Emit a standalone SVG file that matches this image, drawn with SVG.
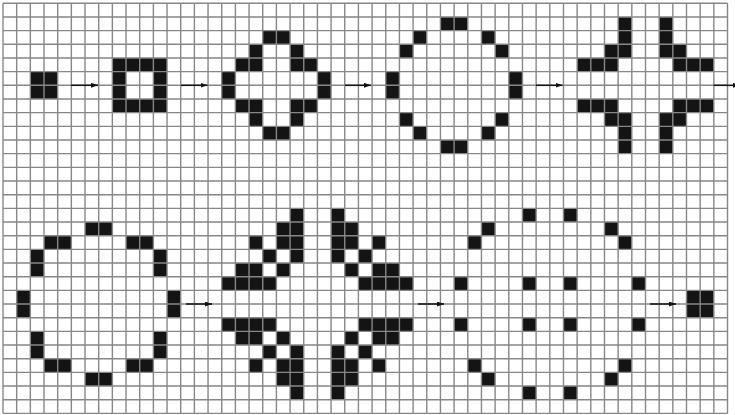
<svg xmlns="http://www.w3.org/2000/svg" width="735" height="415" viewBox="0 0 735 415">
<style>
.c{fill:#141414}
.grid{fill:none;stroke:#878787;stroke-width:1.4}
.arr{stroke:#111;stroke-width:1.5;fill:none}
</style>
<defs>
<marker id="ah" markerUnits="userSpaceOnUse" markerWidth="8" markerHeight="6" refX="7" refY="2.5" orient="auto">
<path d="M0,0 L7,2.5 L0,5 z" fill="#111"/>
</marker>
</defs>
<rect width="735" height="415" fill="#fff"/>
<g transform="translate(3 3.3) scale(13.67)">
<g id="p1">
<rect class="c" x="2" y="5" width="2" height="2"/>
</g>
<g id="p2">
<rect class="c" x="8" y="4" width="4" height="1"/>
<rect class="c" x="8" y="7" width="4" height="1"/>
<rect class="c" x="8" y="5" width="1" height="2"/>
<rect class="c" x="11" y="5" width="1" height="2"/>
</g>
<g id="p3">
<rect class="c" x="19" y="2" width="2" height="1"/>
<rect class="c" x="18" y="3" width="1" height="1"/>
<rect class="c" x="21" y="3" width="1" height="1"/>
<rect class="c" x="17" y="4" width="2" height="1"/>
<rect class="c" x="21" y="4" width="2" height="1"/>
<rect class="c" x="16" y="5" width="1" height="2"/>
<rect class="c" x="23" y="5" width="1" height="2"/>
<rect class="c" x="17" y="7" width="2" height="1"/>
<rect class="c" x="21" y="7" width="2" height="1"/>
<rect class="c" x="18" y="8" width="1" height="1"/>
<rect class="c" x="21" y="8" width="1" height="1"/>
<rect class="c" x="19" y="9" width="2" height="1"/>
</g>
<g id="p4">
<rect class="c" x="32" y="1" width="2" height="1"/>
<rect class="c" x="30" y="2" width="1" height="1"/>
<rect class="c" x="35" y="2" width="1" height="1"/>
<rect class="c" x="29" y="3" width="1" height="1"/>
<rect class="c" x="36" y="3" width="1" height="1"/>
<rect class="c" x="28" y="5" width="1" height="2"/>
<rect class="c" x="37" y="5" width="1" height="2"/>
<rect class="c" x="29" y="8" width="1" height="1"/>
<rect class="c" x="36" y="8" width="1" height="1"/>
<rect class="c" x="30" y="9" width="1" height="1"/>
<rect class="c" x="35" y="9" width="1" height="1"/>
<rect class="c" x="32" y="10" width="2" height="1"/>
</g>
<g id="p5">
<rect class="c" x="45" y="1" width="1" height="2"/>
<rect class="c" x="48" y="1" width="1" height="2"/>
<rect class="c" x="44" y="3" width="2" height="1"/>
<rect class="c" x="48" y="3" width="2" height="1"/>
<rect class="c" x="42" y="4" width="3" height="1"/>
<rect class="c" x="49" y="4" width="3" height="1"/>
<rect class="c" x="42" y="7" width="3" height="1"/>
<rect class="c" x="49" y="7" width="3" height="1"/>
<rect class="c" x="44" y="8" width="2" height="1"/>
<rect class="c" x="48" y="8" width="2" height="1"/>
<rect class="c" x="45" y="9" width="1" height="2"/>
<rect class="c" x="48" y="9" width="1" height="2"/>
</g>
<g id="p6">
<rect class="c" x="6" y="16" width="2" height="1"/>
<rect class="c" x="3" y="17" width="2" height="1"/>
<rect class="c" x="9" y="17" width="2" height="1"/>
<rect class="c" x="2" y="18" width="1" height="2"/>
<rect class="c" x="11" y="18" width="1" height="2"/>
<rect class="c" x="1" y="21" width="1" height="2"/>
<rect class="c" x="12" y="21" width="1" height="2"/>
<rect class="c" x="2" y="24" width="1" height="2"/>
<rect class="c" x="11" y="24" width="1" height="2"/>
<rect class="c" x="3" y="26" width="2" height="1"/>
<rect class="c" x="9" y="26" width="2" height="1"/>
<rect class="c" x="6" y="27" width="2" height="1"/>
</g>
<g id="p7">
<rect class="c" x="21" y="15" width="1" height="1"/>
<rect class="c" x="24" y="15" width="1" height="1"/>
<rect class="c" x="20" y="16" width="2" height="2"/>
<rect class="c" x="24" y="16" width="2" height="2"/>
<rect class="c" x="18" y="17" width="1" height="1"/>
<rect class="c" x="27" y="17" width="1" height="1"/>
<rect class="c" x="19" y="18" width="1" height="1"/>
<rect class="c" x="21" y="18" width="1" height="1"/>
<rect class="c" x="24" y="18" width="1" height="1"/>
<rect class="c" x="26" y="18" width="1" height="1"/>
<rect class="c" x="17" y="19" width="2" height="1"/>
<rect class="c" x="20" y="19" width="1" height="1"/>
<rect class="c" x="25" y="19" width="1" height="1"/>
<rect class="c" x="27" y="19" width="2" height="1"/>
<rect class="c" x="16" y="20" width="4" height="1"/>
<rect class="c" x="26" y="20" width="4" height="1"/>
<rect class="c" x="16" y="23" width="4" height="1"/>
<rect class="c" x="26" y="23" width="4" height="1"/>
<rect class="c" x="17" y="24" width="2" height="1"/>
<rect class="c" x="20" y="24" width="1" height="1"/>
<rect class="c" x="25" y="24" width="1" height="1"/>
<rect class="c" x="27" y="24" width="2" height="1"/>
<rect class="c" x="19" y="25" width="1" height="1"/>
<rect class="c" x="21" y="25" width="1" height="1"/>
<rect class="c" x="24" y="25" width="1" height="1"/>
<rect class="c" x="26" y="25" width="1" height="1"/>
<rect class="c" x="18" y="26" width="1" height="1"/>
<rect class="c" x="27" y="26" width="1" height="1"/>
<rect class="c" x="20" y="26" width="2" height="2"/>
<rect class="c" x="24" y="26" width="2" height="2"/>
<rect class="c" x="21" y="28" width="1" height="1"/>
<rect class="c" x="24" y="28" width="1" height="1"/>
</g>
<g id="p8">
<rect class="c" x="38" y="15" width="1" height="1"/>
<rect class="c" x="41" y="15" width="1" height="1"/>
<rect class="c" x="35" y="16" width="1" height="1"/>
<rect class="c" x="44" y="16" width="1" height="1"/>
<rect class="c" x="34" y="17" width="1" height="1"/>
<rect class="c" x="45" y="17" width="1" height="1"/>
<rect class="c" x="33" y="20" width="1" height="1"/>
<rect class="c" x="38" y="20" width="1" height="1"/>
<rect class="c" x="41" y="20" width="1" height="1"/>
<rect class="c" x="46" y="20" width="1" height="1"/>
<rect class="c" x="33" y="23" width="1" height="1"/>
<rect class="c" x="38" y="23" width="1" height="1"/>
<rect class="c" x="41" y="23" width="1" height="1"/>
<rect class="c" x="46" y="23" width="1" height="1"/>
<rect class="c" x="34" y="26" width="1" height="1"/>
<rect class="c" x="45" y="26" width="1" height="1"/>
<rect class="c" x="35" y="27" width="1" height="1"/>
<rect class="c" x="44" y="27" width="1" height="1"/>
<rect class="c" x="38" y="28" width="1" height="1"/>
<rect class="c" x="41" y="28" width="1" height="1"/>
</g>
<g id="p9">
<rect class="c" x="50" y="21" width="2" height="2"/>
</g>
<path class="grid" vector-effect="non-scaling-stroke" d="M0 0V30M1 0V30M2 0V30M3 0V30M4 0V30M5 0V30M6 0V30M7 0V30M8 0V30M9 0V30M10 0V30M11 0V30M12 0V30M13 0V30M14 0V30M15 0V30M16 0V30M17 0V30M18 0V30M19 0V30M20 0V30M21 0V30M22 0V30M23 0V30M24 0V30M25 0V30M26 0V30M27 0V30M28 0V30M29 0V30M30 0V30M31 0V30M32 0V30M33 0V30M34 0V30M35 0V30M36 0V30M37 0V30M38 0V30M39 0V30M40 0V30M41 0V30M42 0V30M43 0V30M44 0V30M45 0V30M46 0V30M47 0V30M48 0V30M49 0V30M50 0V30M51 0V30M52 0V30M53 0V30M0 0H53M0 1H53M0 2H53M0 3H53M0 4H53M0 5H53M0 6H53M0 7H53M0 8H53M0 9H53M0 10H53M0 11H53M0 12H53M0 13H53M0 14H53M0 15H53M0 16H53M0 17H53M0 18H53M0 19H53M0 20H53M0 21H53M0 22H53M0 23H53M0 24H53M0 25H53M0 26H53M0 27H53M0 28H53M0 29H53M0 30H53"/>
</g>
<g id="connectors">
<line class="arr" x1="71" y1="85.3" x2="98" y2="85.3" marker-end="url(#ah)"/>
<line class="arr" x1="181" y1="85.3" x2="207.5" y2="85.3" marker-end="url(#ah)"/>
<line class="arr" x1="345" y1="85.3" x2="371" y2="85.3" marker-end="url(#ah)"/>
<line class="arr" x1="536" y1="85.3" x2="562.5" y2="85.3" marker-end="url(#ah)"/>
<line class="arr" x1="713.5" y1="85.3" x2="740" y2="85.3" marker-end="url(#ah)"/>
<line class="arr" x1="186" y1="304" x2="212" y2="304" marker-end="url(#ah)"/>
<line class="arr" x1="418" y1="304" x2="444" y2="304" marker-end="url(#ah)"/>
<line class="arr" x1="650" y1="304" x2="676" y2="304" marker-end="url(#ah)"/>
</g>
</svg>
